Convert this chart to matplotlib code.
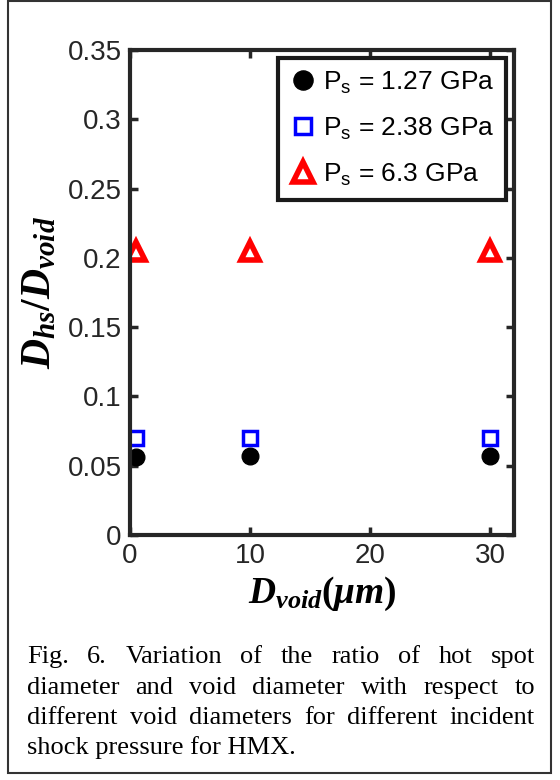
import matplotlib
matplotlib.use('Agg')
import matplotlib.pyplot as plt
from matplotlib.patches import Rectangle

plt.rcParams['font.family'] = ['Liberation Sans', 'DejaVu Sans']
plt.rcParams['mathtext.fontset'] = 'custom'
plt.rcParams['mathtext.it'] = 'Liberation Serif:bold:italic'
plt.rcParams['mathtext.rm'] = 'Liberation Serif:bold'

# data
d_void = [0.5, 10, 30]
ratio_127 = [0.056, 0.057, 0.057]
ratio_238 = [0.070, 0.070, 0.070]
ratio_63 = [0.205, 0.205, 0.205]
labels = [r'$\mathregular{P_s}$ = 1.27 GPa', r'$\mathregular{P_s}$ = 2.38 GPa', r'$\mathregular{P_s}$ = 6.3 GPa']
caption = [
    'Fig. 6. Variation of the ratio of hot spot',
    'diameter and void diameter with respect to',
    'different void diameters for different incident',
    'shock pressure for HMX.',
]

fig = plt.figure(figsize=(5.6, 7.8), dpi=100)
ax = fig.add_axes([0.232, 0.314, 0.686, 0.622])

ax.plot(d_void, ratio_127, 'o', ms=12, color='black', label=labels[0])
ax.plot(d_void, ratio_238, 's', ms=10, mfc='white', mec='blue', mew=2.5, label=labels[1])
ax.plot(d_void, ratio_63, '^', ms=13, mfc='white', mec='red', mew=4, label=labels[2])

ax.set_xlim(0, 32)
ax.set_ylim(0, 0.35)
ax.set_xticks([0, 10, 20, 30])
ax.set_yticks([0, 0.05, 0.1, 0.15, 0.2, 0.25, 0.3, 0.35])
ax.set_yticklabels(['0', '0.05', '0.1', '0.15', '0.2', '0.25', '0.3', '0.35'])
ax.tick_params(direction='in', length=6, width=2.5, labelsize=20, top=True, right=True,
               colors='#262626', labelcolor='#262626', pad=6)
for s in ax.spines.values():
    s.set_linewidth(3)
    s.set_color('#262626')

ax.set_xlabel(r'$D_{void}(\mu m)$', fontsize=27, labelpad=4)
ax.set_ylabel(r'$D_{hs}/D_{void}$', fontsize=30, labelpad=6)

leg = ax.legend(loc='upper right', fontsize=19, frameon=True, fancybox=False,
                handletextpad=0.25, handlelength=1.0, borderaxespad=0.3,
                labelspacing=0.75, borderpad=0.45, markerscale=1.15, framealpha=1)
leg.get_frame().set_edgecolor('#1a1a1a')
leg.get_frame().set_linewidth(3)

# outer frame around figure and caption
fig.patches.append(Rectangle((8 / 560, 7 / 780), 543 / 560, 772 / 780, transform=fig.transFigure,
                             fill=False, edgecolor='#333333', linewidth=1.5))

# justified caption
renderer = fig.canvas.get_renderer()
x0, x1 = 27 / 560, 535 / 560
ys = [657, 688, 718, 748]
for i, line in enumerate(caption):
    y = 1 - ys[i] / 780
    words = line.split()
    if i == len(caption) - 1:
        fig.text(x0, y, line, fontsize=19, family='Liberation Serif', va='center')
        continue
    texts = [fig.text(0, y, w, fontsize=19, family='Liberation Serif', va='center') for w in words]
    widths = [t.get_window_extent(renderer).width / fig.bbox.width for t in texts]
    gap = (x1 - x0 - sum(widths)) / (len(words) - 1)
    x = x0
    for t, w in zip(texts, widths):
        t.set_x(x)
        x += w + gap

fig.savefig('out.png', dpi=100)
